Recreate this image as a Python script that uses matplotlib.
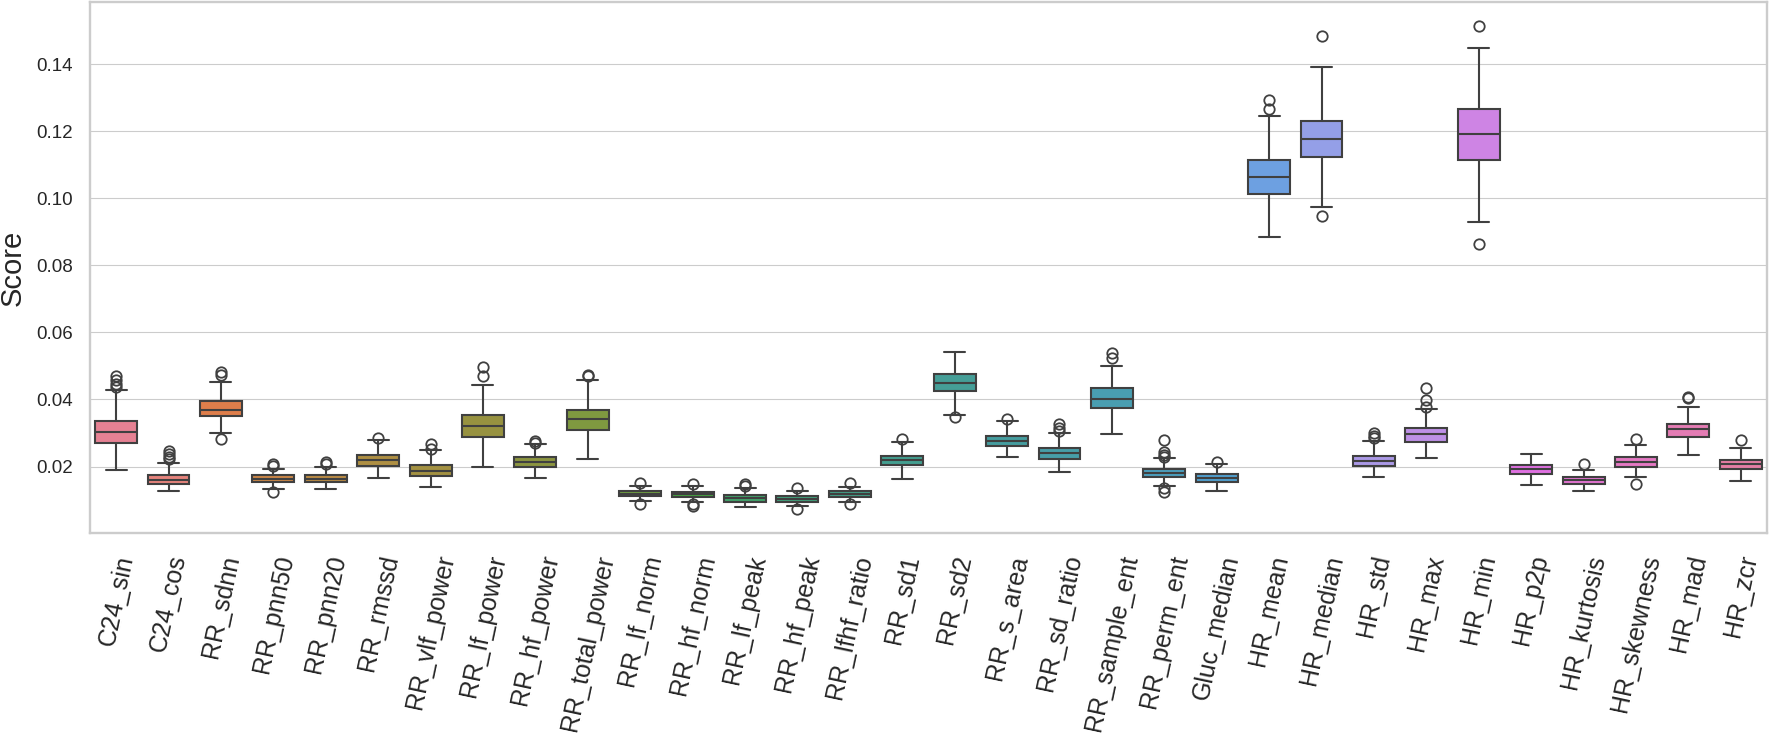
import matplotlib
matplotlib.use("Agg")
import matplotlib.pyplot as plt
import seaborn as sns

features = ["C24_sin", "C24_cos", "RR_sdnn", "RR_pnn50", "RR_pnn20", "RR_rmssd",
            "RR_vlf_power", "RR_lf_power", "RR_hf_power", "RR_total_power",
            "RR_lf_norm", "RR_hf_norm", "RR_lf_peak", "RR_hf_peak", "RR_lfhf_ratio",
            "RR_sd1", "RR_sd2", "RR_s_area", "RR_sd_ratio", "RR_sample_ent",
            "RR_perm_ent", "Gluc_median", "HR_mean", "HR_median", "HR_std", "HR_max",
            "HR_min", "HR_p2p", "HR_kurtosis", "HR_skewness", "HR_mad", "HR_zcr"]

# box statistics
q1 = [.0270, .01475, .0351, .0154, .0154, .0202, .0172, .0288, .0199, .0310,
      .0111, .0110, .0095, .0095, .0110, .0204, .0426, .0261, .0224, .0374,
      .0170, .0155, .1014, .1122, .0202, .0274, .1113, .0177, .0148, .0200,
      .0288, .0194]
median = [.0302, .0160, .0370, .0164, .0164, .0219, .0188, .0320, .0214, .0341,
          .0119, .0118, .0105, .0103, .0118, .0219, .0450, .0276, .0240, .0402,
          .0182, .0166, .1064, .1178, .0217, .0296, .1191, .0192, .0159, .0215,
          .0311, .0207]
q3 = [.0336, .0175, .0395, .0174, .0175, .0235, .0204, .0355, .0229, .0370,
      .0126, .0125, .0115, .0111, .0126, .0233, .0476, .0292, .0255, .0434,
      .0194, .0178, .1113, .1230, .0232, .0314, .1265, .0204, .0169, .0228,
      .0328, .0219]
whisk_lo = [.0191, .0128, .0301, .0132, .0132, .0166, .0138, .0199, .0166, .0223,
            .0097, .0095, .0078, .0083, .0095, .0164, .0355, .0229, .0183, .0297,
            .0143, .0128, .0885, .0973, .0169, .0226, .0929, .0144, .0127, .0168,
            .0235, .0157]
whisk_hi = [.0427, .0212, .0452, .0194, .0199, .0278, .0249, .0442, .0268, .0457,
            .0143, .0143, .0136, .0128, .0140, .0273, .0541, .0335, .0301, .0499,
            .0226, .0209, .1244, .1390, .0275, .0371, .1447, .0237, .0190, .0265,
            .0377, .0255]
outliers = [
    [.0469, .0459, .0445, .0436],
    [.0247, .0237, .0230, .0222],
    [.0482, .0472, .0281],
    [.0209, .0202, .0125],
    [.0214, .0207],
    [.0286],
    [.0266, .0253],
    [.0497, .0471],
    [.0276, .0271],
    [.0474, .0469],
    [.0150, .0088],
    [.0148, .0088, .0083],
    [.0148, .0141],
    [.0136, .0073],
    [.0152, .0088],
    [.0281],
    [.0349],
    [.0343],
    [.0326, .0316, .0306],
    [.0539, .0524],
    [.0278, .0244, .0234, .0229, .0135, .0123],
    [.0215],
    [.1293, .1265],
    [.1483, .0947],
    [.0299, .0291, .0286],
    [.0435, .0398, .0378],
    [.1514, .0865],
    [],
    [.0207],
    [.0283, .0148],
    [.0407, .0403],
    [.0279],
]

sns.set_style("whitegrid")
plt.rcParams["font.family"] = ["Liberation Sans", "DejaVu Sans"]

fig = plt.figure(figsize=(17.7, 7.33), dpi=100)
ax = fig.add_axes([0.0508, 0.2724, 0.9475, 0.7253])

stats = []
for i in range(len(features)):
    stats.append({"med": median[i], "q1": q1[i], "q3": q3[i],
                  "whislo": whisk_lo[i], "whishi": whisk_hi[i],
                  "fliers": outliers[i], "label": features[i]})

line_col = "#404040"
bp = ax.bxp(stats, positions=range(len(features)), widths=0.8, capwidths=0.4,
            patch_artist=True,
            boxprops=dict(edgecolor=line_col, linewidth=1.5),
            medianprops=dict(color=line_col, linewidth=1.5),
            whiskerprops=dict(color=line_col, linewidth=1.5),
            capprops=dict(color=line_col, linewidth=1.5),
            flierprops=dict(marker="o", markerfacecolor="none",
                            markeredgecolor=line_col, markersize=7.5,
                            markeredgewidth=1.3))

colors = [sns.desaturate(c, 0.75) for c in sns.color_palette("husl", len(features))]
for patch, c in zip(bp["boxes"], colors):
    patch.set_facecolor(c)

ax.set_xlim(-0.5, len(features) - 0.5)
ax.grid(axis="x", visible=False)
ax.set_xticks(range(len(features)))
ax.set_xticklabels(features, rotation=78, fontsize=18)
ax.tick_params(axis="x", length=0, pad=14)
ax.tick_params(axis="y", length=0, pad=12, labelsize=13.5)
ax.set_yticks([0.02, 0.04, 0.06, 0.08, 0.10, 0.12, 0.14])
ax.set_ylabel("Score", fontsize=21, labelpad=7)
for s in ax.spines.values():
    s.set_color("#cccccc")
    s.set_linewidth(1.7)

fig.savefig("out.png", dpi=100)
